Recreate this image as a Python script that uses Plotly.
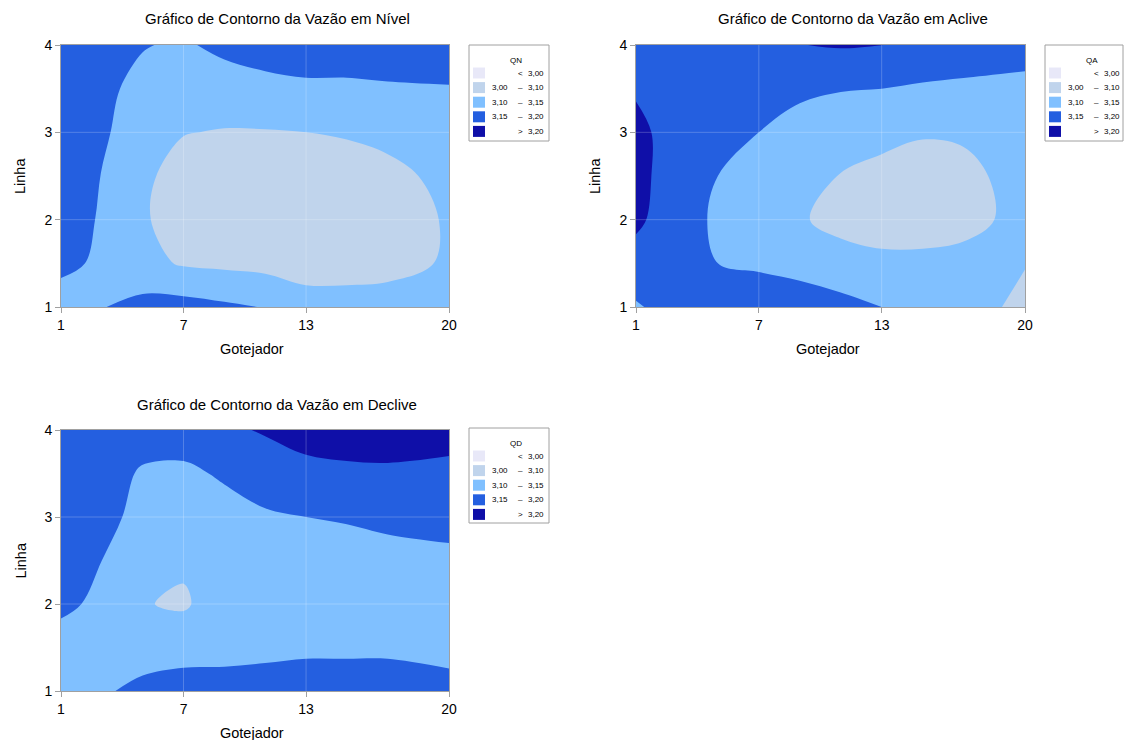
import plotly.graph_objects as go

# ---------------- data ----------------
gotejador = [1, 3, 5, 7, 9, 11, 13, 15, 17, 20]
linha = [1, 1.5, 2, 2.5, 3, 3.5, 4]

qn = [
    [3.130, 3.148, 3.165, 3.168, 3.158, 3.148, 3.120, 3.120, 3.120, 3.130],
    [3.160, 3.143, 3.115, 3.095, 3.090, 3.085, 3.080, 3.080, 3.085, 3.105],
    [3.170, 3.146, 3.105, 3.080, 3.070, 3.065, 3.065, 3.070, 3.075, 3.105],
    [3.170, 3.149, 3.110, 3.080, 3.070, 3.068, 3.070, 3.075, 3.085, 3.115],
    [3.180, 3.156, 3.128, 3.102, 3.097, 3.097, 3.100, 3.105, 3.115, 3.125],
    [3.180, 3.158, 3.140, 3.130, 3.130, 3.140, 3.145, 3.145, 3.147, 3.148],
    [3.180, 3.175, 3.152, 3.145, 3.160, 3.165, 3.165, 3.165, 3.165, 3.170],
]
qa = [
    [3.145, 3.170, 3.180, 3.190, 3.180, 3.165, 3.150, 3.130, 3.120, 3.088],
    [3.180, 3.170, 3.150, 3.140, 3.130, 3.120, 3.110, 3.110, 3.110, 3.102],
    [3.210, 3.170, 3.143, 3.125, 3.105, 3.085, 3.080, 3.080, 3.090, 3.110],
    [3.215, 3.175, 3.150, 3.135, 3.120, 3.098, 3.090, 3.085, 3.090, 3.115],
    [3.212, 3.180, 3.165, 3.150, 3.140, 3.125, 3.110, 3.103, 3.105, 3.120],
    [3.195, 3.180, 3.175, 3.165, 3.155, 3.152, 3.150, 3.145, 3.142, 3.140],
    [3.170, 3.175, 3.185, 3.190, 3.199, 3.204, 3.201, 3.180, 3.175, 3.165],
]
qd = [
    [3.120, 3.145, 3.160, 3.165, 3.165, 3.168, 3.170, 3.170, 3.170, 3.165],
    [3.130, 3.130, 3.132, 3.137, 3.138, 3.140, 3.143, 3.143, 3.143, 3.136],
    [3.160, 3.140, 3.103, 3.093, 3.130, 3.125, 3.130, 3.130, 3.130, 3.135],
    [3.170, 3.150, 3.125, 3.108, 3.125, 3.130, 3.135, 3.135, 3.138, 3.142],
    [3.175, 3.160, 3.140, 3.130, 3.135, 3.145, 3.150, 3.153, 3.158, 3.162],
    [3.180, 3.170, 3.145, 3.142, 3.155, 3.170, 3.185, 3.190, 3.192, 3.190],
    [3.180, 3.180, 3.170, 3.170, 3.190, 3.205, 3.220, 3.225, 3.225, 3.215],
]

x_ticks = [1, 7, 13, 20]
y_ticks = [1, 2, 3, 4]
titles = ["Gráfico de Contorno da Vazão em Nível",
          "Gráfico de Contorno da Vazão em Aclive",
          "Gráfico de Contorno da Vazão em Declive"]
legend_titles = ["QN", "QA", "QD"]
legend_rows = [("", "<", "3,00"), ("3,00", "–", "3,10"), ("3,10", "–", "3,15"),
               ("3,15", "–", "3,20"), ("", ">", "3,20")]
band_colors = ["#E8E8F8", "#C0D4EC", "#80C0FF", "#245FE0", "#0F0FA8"]

# ---------------- layout helpers ----------------
W, H = 1124, 740
FONT = "Liberation Sans, Arial, sans-serif"


def px(xp):
    return xp / W


def py(yp):
    return 1 - yp / H


colorscale = [[0, band_colors[0]], [0.1, band_colors[0]],
              [0.1, band_colors[1]], [0.5, band_colors[1]],
              [0.5, band_colors[2]], [0.7, band_colors[2]],
              [0.7, band_colors[3]], [0.9, band_colors[3]],
              [0.9, band_colors[4]], [1, band_colors[4]]]

# plot areas in pixels: left, right, top, bottom
areas = [(61, 449, 45, 307), (636, 1025, 45, 307), (61, 449, 430, 691)]
legend_boxes = [(469, 549, 45, 141), (1045, 1123, 45, 141), (469, 549, 428, 523)]

fig = go.Figure()
datasets = [qn, qa, qd]
for i, z in enumerate(datasets):
    n = "" if i == 0 else str(i + 1)
    fig.add_trace(go.Contour(
        x=gotejador, y=linha, z=z,
        xaxis="x" + n, yaxis="y" + n,
        colorscale=colorscale, showscale=False,
        contours=dict(start=3.00, end=3.20, size=0.05, coloring="fill", showlines=False),
        line=dict(width=0, smoothing=1.0),
        hoverinfo="skip",
    ))

layout = dict(template="none", width=W, height=H, autosize=False,
              margin=dict(l=0, r=0, t=0, b=0, pad=0),
              paper_bgcolor="white", plot_bgcolor="white",
              font=dict(family=FONT, color="black"),
              showlegend=False)
shapes = []
annotations = []
for i, (l, r, t, b) in enumerate(areas):
    n = "" if i == 0 else str(i + 1)
    axcommon = dict(showline=True, linecolor="#A0A0A0", linewidth=1, mirror=True,
                    ticks="outside", ticklen=5, tickcolor="#A0A0A0", tickwidth=1,
                    showgrid=False, zeroline=False, automargin=False,
                    tickfont=dict(size=14, family=FONT, color="black"))
    layout["xaxis" + n] = dict(axcommon, domain=[px(l), px(r)], range=[1, 20],
                               tickvals=x_ticks, ticktext=[str(v) for v in x_ticks],
                               anchor="y" + n)
    layout["yaxis" + n] = dict(axcommon, domain=[py(b), py(t)], range=[1, 4],
                               tickvals=y_ticks, ticktext=[str(v) for v in y_ticks],
                               anchor="x" + n)
    xr = "x" + n
    yr = "y" + n
    # grid lines drawn on top of the filled contours
    for xv in x_ticks[1:-1]:
        shapes.append(dict(type="line", xref=xr, yref=yr + " domain", x0=xv, x1=xv, y0=0, y1=1,
                           line=dict(color="rgba(255,255,255,0.22)", width=1), layer="above"))
    for yv in y_ticks[1:-1]:
        shapes.append(dict(type="line", xref=xr + " domain", yref=yr, x0=0, x1=1, y0=yv, y1=yv,
                           line=dict(color="rgba(255,255,255,0.22)", width=1), layer="above"))
    cx = (l + r) / 2
    # title
    annotations.append(dict(text=titles[i], xref="paper", yref="paper",
                            x=px(cx + 22), y=py(t - 26), xanchor="center", yanchor="middle",
                            showarrow=False, font=dict(size=15, family=FONT, color="black")))
    # axis titles
    annotations.append(dict(text="Gotejador", xref="paper", yref="paper",
                            x=px(cx - 3), y=py(b + 42), xanchor="center", yanchor="middle",
                            showarrow=False, font=dict(size=14.5, family=FONT, color="black")))
    annotations.append(dict(text="Linha", xref="paper", yref="paper",
                            x=px(l - 41), y=py((t + b) / 2), xanchor="center", yanchor="middle",
                            textangle=-90, showarrow=False,
                            font=dict(size=14.5, family=FONT, color="black")))

    # legend box
    bl, br, bt, bb = legend_boxes[i]
    shapes.append(dict(type="rect", xref="paper", yref="paper",
                       x0=px(bl), x1=px(br), y0=py(bb), y1=py(bt),
                       line=dict(color="#A0A0A0", width=1), fillcolor="white", layer="above"))
    annotations.append(dict(text=legend_titles[i], xref="paper", yref="paper",
                            x=px(bl + 47), y=py(bt + 15), xanchor="center", yanchor="middle",
                            showarrow=False, font=dict(size=8, family=FONT, color="black")))
    for k, (lo, sym, hi) in enumerate(legend_rows):
        yc = bt + 28 + k * 14.6
        shapes.append(dict(type="rect", xref="paper", yref="paper",
                           x0=px(bl + 4), x1=px(bl + 16), y0=py(yc + 5.5), y1=py(yc - 5.5),
                           line=dict(width=0), fillcolor=band_colors[k], layer="above"))
        if lo:
            annotations.append(dict(text=lo, xref="paper", yref="paper",
                                    x=px(bl + 41), y=py(yc), xanchor="right", yanchor="middle",
                                    showarrow=False, font=dict(size=8, family=FONT, color="black")))
        annotations.append(dict(text=sym, xref="paper", yref="paper",
                                x=px(bl + 51), y=py(yc), xanchor="center", yanchor="middle",
                                showarrow=False, font=dict(size=8, family=FONT, color="black")))
        annotations.append(dict(text=hi, xref="paper", yref="paper",
                                x=px(bl + 77), y=py(yc), xanchor="right", yanchor="middle",
                                showarrow=False, font=dict(size=8, family=FONT, color="black")))

layout["shapes"] = shapes
layout["annotations"] = annotations
fig.update_layout(**layout)
fig.write_html("out.html")
